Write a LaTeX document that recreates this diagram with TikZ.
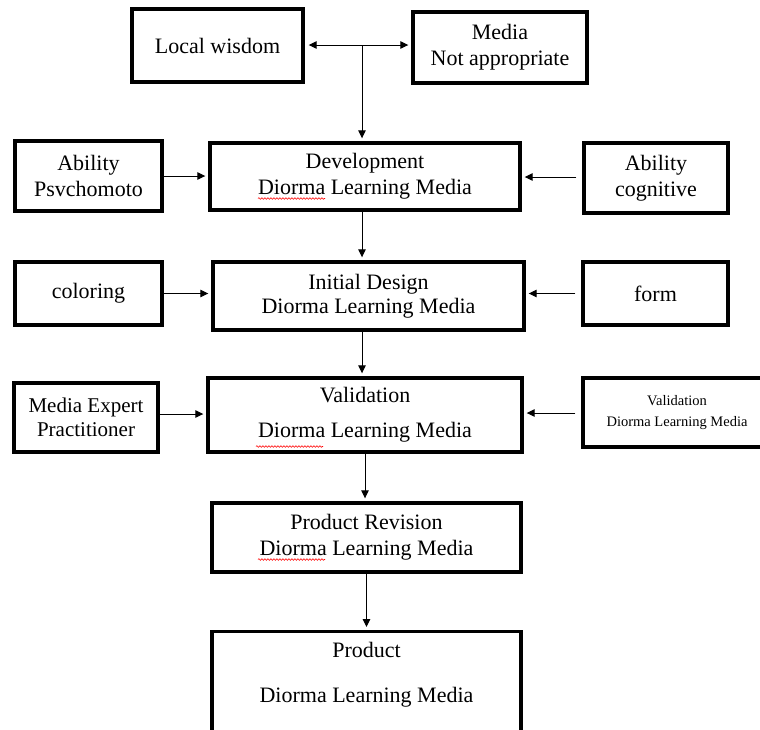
\documentclass[tikz,border=0pt]{standalone}
\usepackage{fontspec}
\setmainfont{Liberation Serif}
\usepackage{tikz}
\usetikzlibrary{arrows.meta, decorations.pathmorphing, positioning}

\begin{document}
\begin{tikzpicture}[x=1pt, y=-1pt,
    box/.style = {draw, line width=3.4pt, align=center, inner sep=0pt,
                  font=\fontsize{22}{26}\selectfont},
    arr/.style = {-{Triangle[length=8pt,width=7.5pt]}, line width=1pt, shorten >=3pt},
    wavy/.style = {red, line width=0.6pt, decorate,
                   decoration={snake, amplitude=0.8pt, segment length=3pt}}]
    % Foglio
    \useasboundingbox (0,0) rectangle (760,729);
    \clip (0,0) rectangle (760,729);
    \fill[white] (0,0) rectangle (760,729);
    % riga 1
    \node[box, minimum width=171pt, minimum height=73pt] (wisdom) at (217.5,45.5) {Local wisdom};
    \node[box, minimum width=174pt, minimum height=71pt] (media) at (500,47.5) {Media\\Not appropriate};
    \coordinate (mid) at (362,45);
    % riga 2
    \node[box, minimum width=147pt, minimum height=70pt] (psycho) at (88.5,176) {Ability\\Psvchomoto};
    \node[box, minimum width=310pt, minimum height=67pt] (develop) at (365,176.5) {Development\\Diorma Learning Media};
    \node[box, minimum width=144pt, minimum height=70pt] (cognit) at (656,178) {Ability\\cognitive};
    % riga 3
    \node[box, minimum width=147pt, minimum height=63pt] (coloring) at (88.5,293.5) {coloring};
    \node[box, minimum width=311pt, minimum height=68pt,
          font=\fontsize{22}{24}\selectfont] (design) at (368.5,296) {Initial Design\\Diorma Learning Media};
    \node[box, minimum width=145pt, minimum height=63pt] (form) at (655.5,293.5) {form};
    % riga 4
    \node[box, minimum width=144pt, minimum height=69pt,
          font=\fontsize{21}{24}\selectfont] (expert) at (86,417.5) {Media Expert\\Practitioner};
    \node[box, minimum width=314pt, minimum height=74pt] (valid) at (365,415) {Validation\\[9pt]Diorma Learning Media};
    \node[box, minimum width=188pt, minimum height=69pt,
          font=\fontsize{14.5}{21}\selectfont] (validr) at (677,412.5) {Validation\\Diorma Learning Media};
    % riga 5 e 6
    \node[box, minimum width=309pt, minimum height=69pt] (revision) at (366.5,537.5) {Product Revision\\Diorma Learning Media};
    \node[box, minimum width=309pt, minimum height=200pt, anchor=north] (product) at (366.5,630) {};
    \node[align=center, inner sep=0pt, font=\fontsize{22}{26}\selectfont] (prodtext) at (366.5,674.5) {Product\\[19pt]Diorma Learning Media};
    % frecce
    \draw[arr, {Triangle[length=8pt,width=7.5pt]}-{Triangle[length=8pt,width=7.5pt]}, shorten <=4pt]
        (wisdom.east |- mid) -- (media.west |- mid);
    \draw[arr] (mid) -- (mid |- develop.north);
    \draw[arr] (psycho.east |- 0,176) -- (develop.west |- 0,176);
    \draw[arr, shorten <=6pt] (cognit.west |- 0,177) -- (develop.east |- 0,177);
    \draw[arr] (develop.south -| mid) -- (design.north -| mid);
    \draw[arr] (coloring) -- (design.west |- coloring);
    \draw[arr, shorten <=6pt] (form) -- (design.east |- form);
    \draw[arr] (design.south -| mid) -- (valid.north -| mid);
    \draw[arr] (expert.east |- 0,414) -- (valid.west |- 0,414);
    \draw[arr, shorten <=6pt] (validr.west |- 0,413) -- (valid.east |- 0,413);
    \draw[arr] (valid.south) -- (valid.south |- revision.north);
    \draw[arr] (revision.south) -- (product.north);
    % sottolineature
    \draw[wavy] (258,198.5) -- (325,198.5);
    \draw[wavy] (256,446.5) -- (323,446.5);
    \draw[wavy] (258,559.5) -- (325,559.5);
\end{tikzpicture}
\end{document}
